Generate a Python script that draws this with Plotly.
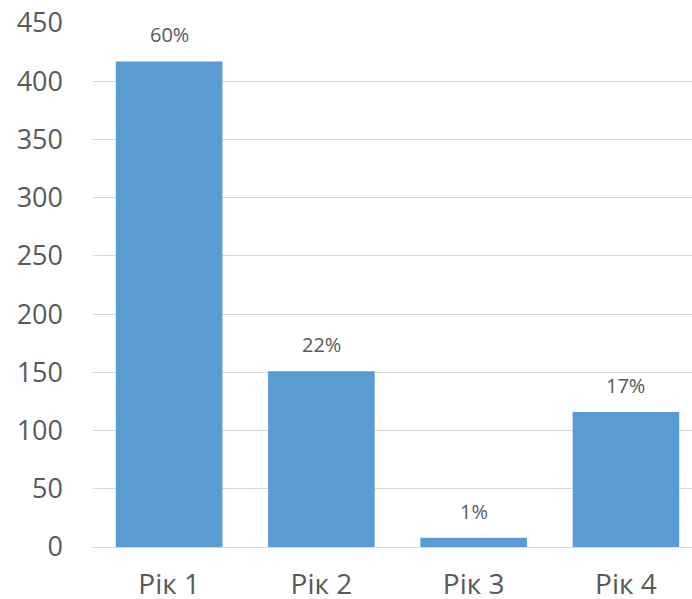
import plotly.graph_objects as go

categories = ["Рік 1", "Рік 2", "Рік 3", "Рік 4"]
values = [417, 151, 8, 116]
labels = ["60%", "22%", "1%", "17%"]

y_ticks = [0, 50, 100, 150, 200, 250, 300, 350, 400, 450]

TEXT = "#595959"
FONT = "Open Sans, Noto Sans, sans-serif"

fig = go.Figure(
    go.Bar(
        x=categories,
        y=values,
        marker=dict(color="#5B9BD5", line=dict(width=0)),
        hoverinfo="skip",
    )
)

for c, v, t in zip(categories, values, labels):
    fig.add_annotation(
        x=c, y=v, text=t, showarrow=False, yanchor="bottom", yshift=11,
        font=dict(family=FONT, size=20, color=TEXT),
    )

fig.update_layout(
    width=692,
    height=599,
    margin=dict(l=93, r=0, t=23, b=52, autoexpand=False),
    paper_bgcolor="white",
    plot_bgcolor="white",
    bargap=0.3,
    showlegend=False,
    xaxis=dict(
        range=[-0.5, 3.434],
        automargin=False,
        showgrid=False,
        showline=False,
        zeroline=False,
        ticks="",
        tickfont=dict(family=FONT, size=28, color=TEXT),
        ticklabelstandoff=18,
        fixedrange=True,
    ),
    yaxis=dict(
        range=[0, 450],
        automargin=False,
        tickvals=y_ticks,
        showgrid=True,
        gridcolor="#D9D9D9",
        gridwidth=1,
        zeroline=True,
        zerolinecolor="#D9D9D9",
        zerolinewidth=1,
        showline=False,
        ticks="",
        tickfont=dict(family=FONT, size=27, color=TEXT),
        ticklabelstandoff=29,
        fixedrange=True,
    ),
)

fig.write_html("out.html")
